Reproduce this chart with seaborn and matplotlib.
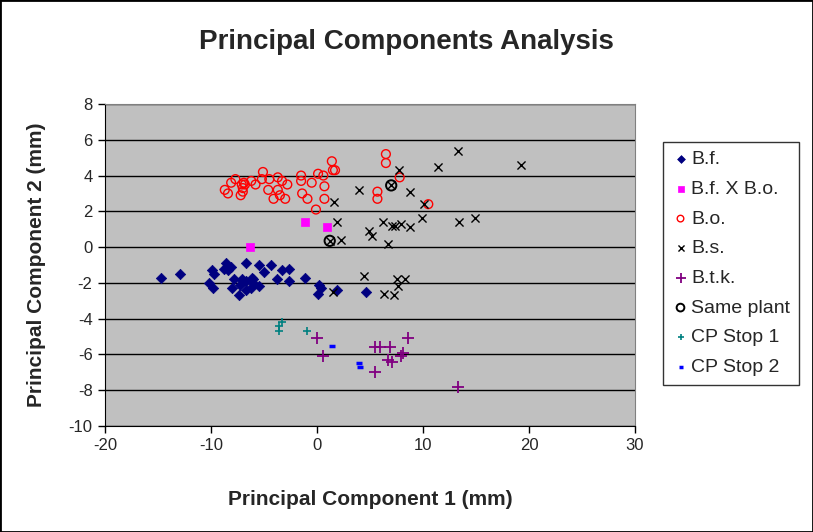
import matplotlib
matplotlib.use("Agg")
import matplotlib.pyplot as plt
import seaborn as sns
from matplotlib.patches import Rectangle

# B.f.
bf_x = [-14.7, -12.9, -9.9, -9.7, -8.6, -8.8, -8.1, -8.4, -10.2, -9.8, -7.8, -8.0, -7.4,
        -7.1, -7.0, -7.3, -6.7, -6.7, -6.2, -6.1, -6.0, -6.0, -5.5, -6.7, -5.5, -5.0, -4.3,
        -3.8, -3.3, -2.6, -2.6, -1.1, 0.2, 0.4, 0.1, 1.9, 4.6]
bf_y = [-1.7, -1.5, -1.3, -1.5, -0.9, -1.2, -1.1, -1.3, -2.0, -2.3, -1.8, -2.3, -2.7,
        -1.8, -1.9, -2.1, -1.9, -2.4, -2.3, -1.7, -1.8, -2.0, -2.2, -0.9, -1.0, -1.4, -1.0,
        -1.8, -1.3, -1.2, -1.9, -1.7, -2.1, -2.3, -2.6, -2.4, -2.5]

# B.f. X B.o.
bfbo_x = [-1.1, 0.9, -6.3]
bfbo_y = [1.4, 1.1, 0.0]

# B.o.
bo_x = [-8.7, -8.4, -8.1, -7.7, -7.1, -6.9, -7.0, -7.0, -7.2, -6.8, -6.2, -5.8, -5.1, -5.2,
        -4.5, -4.6, -3.7, -3.7, -3.3, -2.8, -3.5, -4.1, -3.0, -1.5, -1.5, -0.5, -1.4, -0.9,
        -0.1, 0.1, 0.6, 0.7, 0.7, 1.4, 1.5, 1.7, 6.5, 6.5, 7.8, 5.7, 5.7, 10.5]
bo_y = [3.2, 3.0, 3.6, 3.8, 3.5, 3.6, 3.3, 3.1, 2.9, 3.5, 3.7, 3.5, 4.2, 3.8,
        3.8, 3.2, 3.9, 3.2, 3.7, 3.5, 2.9, 2.7, 2.7, 4.0, 3.7, 3.6, 3.0, 2.7,
        2.1, 4.1, 4.0, 3.4, 2.7, 4.8, 4.3, 4.3, 5.2, 4.7, 3.9, 3.1, 2.7, 2.4]

# B.s.
bs_x = [4.0, 1.6, 1.9, 2.3, 4.9, 5.2, 4.4, 1.5, 13.3, 11.4, 19.2, 7.7, 8.8, 10.1, 6.2,
        7.1, 7.4, 7.9, 8.8, 9.9, 13.4, 14.9, 6.7, 7.5, 8.3, 7.6, 6.3, 7.3, 1.2, 7.0]
bs_y = [3.2, 2.5, 1.4, 0.4, 0.9, 0.6, -1.6, -2.5, 5.4, 4.5, 4.6, 4.3, 3.1, 2.4, 1.4,
        1.2, 1.2, 1.3, 1.1, 1.6, 1.4, 1.6, 0.2, -1.8, -1.8, -2.2, -2.6, -2.7, 0.35, 3.45]

# B.t.k.
btk_x = [0.0, 0.6, 5.5, 5.9, 6.9, 8.6, 8.1, 7.9, 6.7, 7.1, 5.5, 13.3]
btk_y = [-5.1, -6.1, -5.6, -5.6, -5.6, -5.1, -5.9, -6.1, -6.3, -6.4, -7.0, -7.8]

# Same plant
sp_x = [1.2, 7.0]
sp_y = [0.35, 3.45]

# CP Stop 1
cp1_x = [-3.3, -3.55, -3.55, -0.9]
cp1_y = [-4.2, -4.4, -4.7, -4.7]

# CP Stop 2
cp2_x = [1.4, 4.0, 4.05]
cp2_y = [-5.5, -6.5, -6.7]

sns.set_style("white")
plt.rcParams['font.family'] = ['Liberation Sans', 'DejaVu Sans']
plt.rcParams['axes.unicode_minus'] = False

fig = plt.figure(figsize=(8.13, 5.32), dpi=100)
ax = fig.add_axes([105 / 813, 1 - 426 / 532, 530 / 813, (426 - 104) / 532])
ax.set_facecolor("#C0C0C0")

sns.scatterplot(x=bf_x, y=bf_y, marker="D", s=28, color="#000080", edgecolor="#000080",
                linewidth=0.5, label="B.f.", ax=ax, zorder=3)
sns.scatterplot(x=bfbo_x, y=bfbo_y, marker="s", s=28, color="#FF00FF", edgecolor="#FF00FF",
                linewidth=0.5, label="B.f. X B.o.", ax=ax, zorder=3)
sns.scatterplot(x=bo_x, y=bo_y, marker="o", s=40, color="red", edgecolor="red",
                linewidth=1.0, label="B.o.", ax=ax, zorder=3)
ax.collections[-1].set_facecolor("none")
sns.scatterplot(x=bs_x, y=bs_y, marker="x", s=34, color="black", linewidth=1.0,
                label="B.s.", ax=ax, zorder=3)
sns.scatterplot(x=btk_x, y=btk_y, marker="+", s=80, color="#800080", linewidth=1.3,
                label="B.t.k.", ax=ax, zorder=3)
sns.scatterplot(x=sp_x, y=sp_y, marker="o", s=55, color="black", edgecolor="black",
                linewidth=1.4, label="Same plant", ax=ax, zorder=4)
ax.collections[-1].set_facecolor("none")
sns.scatterplot(x=cp1_x, y=cp1_y, marker="+", s=30, color="#008080", linewidth=1.2,
                label="CP Stop 1", ax=ax, zorder=3)
sns.scatterplot(x=cp2_x, y=cp2_y, marker="_", s=22, color="#0000FF", linewidth=2.5,
                label="CP Stop 2", ax=ax, zorder=3)

ax.set_xlim(-20, 30)
ax.set_ylim(-10, 8)
ax.set_xticks(range(-20, 31, 10))
ax.set_yticks(range(-10, 9, 2))
ax.yaxis.grid(True, color="black", linewidth=1)
ax.xaxis.grid(False)
ax.set_axisbelow(True)
for side in ["top", "right"]:
    ax.spines[side].set_color("#808080")
for side in ["left", "bottom"]:
    ax.spines[side].set_color("black")
ax.tick_params(axis="both", direction="out", length=5, width=1, color="black",
               labelsize=12, pad=4, left=True, bottom=True)

ax.set_xlabel("Principal Component 1 (mm)", fontsize=15, fontweight="bold", labelpad=26)
ax.set_ylabel("Principal Component 2 (mm)", fontsize=15, fontweight="bold", labelpad=16)
fig.text(0.5, 1 - 42 / 532, "Principal Components Analysis", ha="center", va="center",
         fontsize=20, fontweight="bold")

leg = ax.legend(loc="upper left", bbox_to_anchor=(663 / 813, 1 - 142 / 532),
                bbox_transform=fig.transFigure, fontsize=14, frameon=True, fancybox=False,
                labelspacing=0.62, handletextpad=0.1, handlelength=0.9, borderpad=0.45,
                markerscale=0.75, borderaxespad=0)
leg.get_frame().set_edgecolor("black")
leg.get_frame().set_linewidth(1)
leg.get_frame().set_facecolor("white")

fig.patches.append(Rectangle((0, 0), 1, 1, transform=fig.transFigure, fill=False,
                             edgecolor="black", linewidth=2))

fig.savefig("out.png", dpi=100)
